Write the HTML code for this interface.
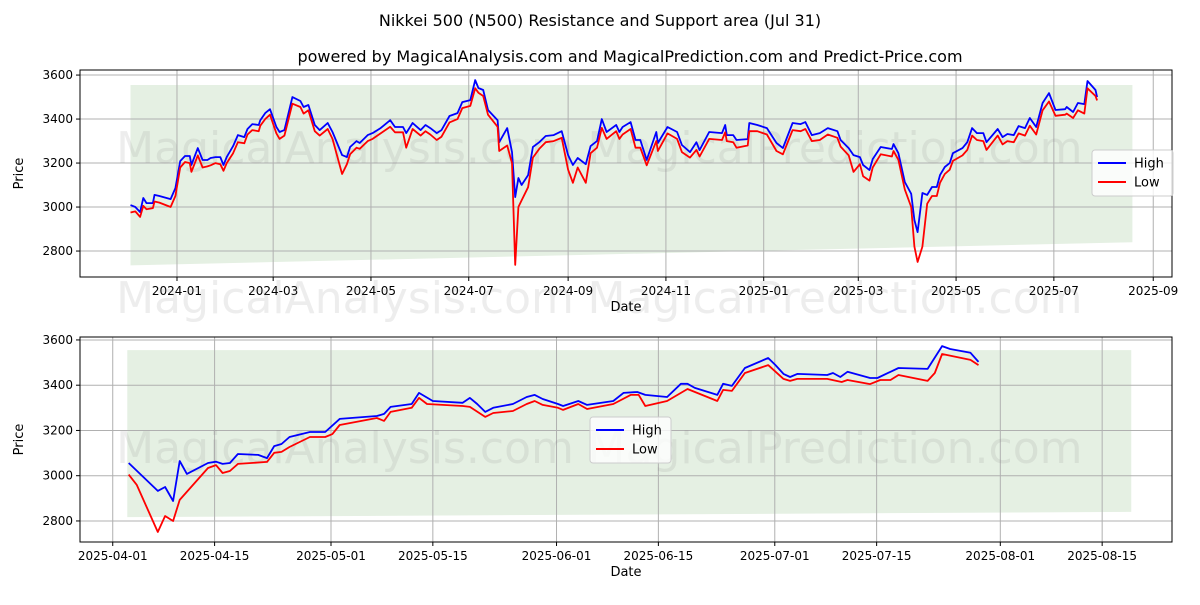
<!DOCTYPE html>
<html><head><meta charset="utf-8"><style>
body{margin:0;background:#fff;font-family:"Liberation Sans","DejaVu Sans",sans-serif}
svg text{font-family:"DejaVu Sans","Liberation Sans",sans-serif}
</style></head><body>
<svg id="c" width="1200" height="600" xmlns="http://www.w3.org/2000/svg">
<rect width="1200" height="600" fill="#fff"/>
<text x="600" y="26" text-anchor="middle" font-size="16">Nikkei 500 (N500) Resistance and Support area (Jul 31)</text>
<text x="630" y="62" text-anchor="middle" font-size="16">powered by MagicalAnalysis.com and MagicalPrediction.com and Predict-Price.com</text>
</svg>
<script>
// days since 2024-01-01
const days=[-29,-26,-23,-21,-19,-15,-14,-11,-4,-1,2,5,8,9,13,16,19,21,24,27,29,31,35,38,42,44,47,51,52,55,58,62,64,67,72,77,79,82,86,89,94,97,103,106,108,112,114,119,122,127,133,136,141,143,147,152,155,158,162,165,170,175,178,183,186,188,191,194,200,201,206,209,211,213,215,219,222,226,230,235,240,244,247,250,255,258,262,265,268,274,276,278,283,286,289,293,299,300,306,312,315,320,324,326,332,340,342,343,347,349,356,357,362,368,374,378,384,389,392,396,401,406,412,414,419,422,426,428,432,434,439,446,447,450,454,458,460,462,465,468,471,474,476,479,482,484,490,493,496,499,503,505,512,515,518,522,525,529,532,536,540,544,548,554,555,559,562,566,568,573,574];
const high=[3009,3000,2977,3041,3018,3018,3055,3050,3036,3086,3209,3232,3232,3191,3268,3214,3214,3223,3227,3227,3191,3227,3277,3327,3318,3355,3377,3373,3395,3427,3445,3364,3341,3350,3500,3482,3455,3464,3373,3350,3382,3341,3236,3227,3273,3300,3291,3327,3336,3359,3395,3364,3364,3336,3382,3350,3373,3359,3336,3350,3414,3427,3477,3486,3577,3541,3532,3441,3395,3295,3359,3250,3045,3132,3100,3145,3273,3295,3323,3327,3345,3236,3191,3223,3195,3277,3300,3400,3341,3373,3341,3364,3386,3305,3305,3214,3341,3291,3364,3341,3282,3250,3295,3259,3341,3336,3373,3327,3327,3305,3309,3382,3373,3359,3291,3268,3382,3377,3386,3327,3336,3359,3345,3305,3268,3236,3227,3191,3168,3218,3273,3264,3286,3245,3114,3060,2941,2886,3064,3055,3091,3091,3145,3182,3200,3245,3268,3295,3359,3336,3336,3295,3355,3318,3332,3327,3368,3359,3405,3364,3473,3518,3441,3445,3455,3432,3473,3468,3573,3532,3500];
const low=[2975,2980,2955,3005,2990,2995,3025,3020,3000,3050,3180,3205,3200,3160,3235,3180,3185,3190,3200,3195,3165,3200,3245,3295,3290,3330,3350,3345,3370,3400,3420,3335,3310,3325,3470,3455,3425,3440,3345,3325,3355,3310,3150,3195,3240,3270,3265,3300,3310,3335,3365,3340,3340,3270,3355,3325,3345,3330,3305,3320,3385,3400,3450,3460,3540,3520,3505,3420,3365,3255,3280,3200,2737,3000,3030,3090,3225,3265,3295,3300,3315,3170,3110,3180,3110,3245,3270,3360,3310,3345,3310,3330,3355,3270,3270,3190,3300,3255,3335,3310,3250,3225,3260,3230,3310,3305,3340,3300,3295,3270,3280,3345,3345,3330,3255,3240,3350,3345,3355,3300,3305,3330,3315,3275,3235,3160,3195,3140,3120,3180,3240,3230,3255,3215,3080,3000,2820,2750,2820,3015,3050,3050,3110,3150,3170,3210,3235,3260,3325,3305,3300,3260,3325,3285,3300,3295,3335,3325,3370,3330,3440,3480,3415,3420,3425,3405,3440,3425,3540,3505,3485];
// detailed recent data (bottom panel)
const bHighDays=[458.2,462.2,463.2,464.3,465.2,466.2,469.1,470.2,471.1,472.1,473.2,476,477.2,478.2,479.2,480.3,483.1,485.2,487.2,492.3,493.3,494.2,497.1,498.1,500,504.1,505.1,506.1,507.2,508.3,511,512.9,514,515.1,517.2,517.9,520,521.2,524.8,526.2,528.1,529.2,532.2,534.1,535,536,539.1,539.9,541.1,542.9,546.1,547.1,548.2,549.1,550.1,554.2,555,556,557,560.1,561.1,562.9,564,568,570,571.1,573.9,575];
const bHigh=[3056,2933,2950,2888,3065,3008,3056,3062,3052,3056,3096,3092,3078,3131,3140,3171,3193,3193,3251,3264,3273,3304,3317,3366,3330,3322,3344,3317,3282,3300,3317,3348,3357,3339,3317,3308,3330,3313,3330,3366,3370,3357,3348,3406,3406,3388,3357,3406,3397,3476,3520,3489,3450,3436,3450,3445,3454,3436,3459,3432,3432,3459,3476,3472,3573,3560,3543,3503];
const bLowDays=[458.2,459.3,462.2,463.2,464.3,465.2,469.1,470.2,471.1,472.1,473.2,477.2,478.2,479.2,480.3,483.1,485.2,486.2,487.2,492.3,493.3,494.2,497.1,498.1,499.2,504.1,505.1,507.2,508.3,511,512.9,514,515.1,517.2,517.9,520,521.2,524.8,527.2,528.3,529.2,532.2,535,539.1,539.9,541.1,542.9,546.1,548.2,549.1,550.1,554.2,556.2,557,560.1,561.5,562.9,564,568,569,570,573.9,575];
const bLow=[3005,2960,2751,2822,2800,2893,3034,3047,3012,3021,3052,3061,3101,3105,3127,3171,3171,3184,3224,3255,3242,3282,3300,3344,3317,3308,3304,3260,3277,3286,3317,3330,3313,3300,3291,3317,3295,3317,3357,3357,3308,3330,3383,3330,3379,3375,3454,3489,3428,3419,3428,3428,3414,3423,3405,3423,3423,3445,3419,3454,3538,3512,3489];
const ticksTop=["2024-01","2024-03","2024-05","2024-07","2024-09","2024-11","2025-01","2025-03","2025-05","2025-07","2025-09"];
const ticksTopDays=[0,60,121,182,244,305,366,425,486,547,609];
const ticksBot=["2025-04-01","2025-04-15","2025-05-01","2025-05-15","2025-06-01","2025-06-15","2025-07-01","2025-07-15","2025-08-01","2025-08-15"];
const ticksBotDays=[456,470,486,500,517,531,547,561,578,592];
const yTicks=[2800,3000,3200,3400,3600];
const band={d0:-29,d1:596,top:3555,bot0:2735,bot1:2840};

const svg=document.getElementById('c');const NS="http://www.w3.org/2000/svg";
function mk(t,a,p){const e=document.createElementNS(NS,t);for(const k in a)e.setAttribute(k,a[k]);(p||svg).appendChild(e);return e;}
function panel(name,L,R,T,B,dmin,dmax,vmin,vmax,tickD,tickL,series,bandStart,legX,legY,wm){
  const g=mk('g',{});
  
  
  const X=d=>L+(d-dmin)/(dmax-dmin)*(R-L), Y=v=>B-(v-vmin)/(vmax-vmin)*(B-T);
  const bd0=Math.max(band.d0,bandStart), b0=band.bot0+(band.bot1-band.bot0)*(bd0-band.d0)/(band.d1-band.d0);
  const bp=mk('polygon',{points:`${X(bd0)},${Y(band.top)} ${X(band.d1)},${Y(band.top)} ${X(band.d1)},${Y(band.bot1)} ${X(bd0)},${Y(b0)}`,fill:'#e5f0e3'},g);
  
  
  tickD.forEach((d,i)=>{const x=X(d);mk('line',{x1:x,x2:x,y1:T,y2:B,stroke:'#b0b0b0','stroke-width':1},g);mk('line',{x1:x,x2:x,y1:B,y2:B+4,stroke:'#000'},g);
    const t=mk('text',{x:x,y:B+18,'text-anchor':'middle','font-size':12},g);t.textContent=tickL[i];
    
    });
  yTicks.forEach(v=>{const y=Y(v);mk('line',{x1:L,x2:R,y1:y,y2:y,stroke:'#b0b0b0','stroke-width':1},g);mk('line',{x1:L-4,x2:L,y1:y,y2:y,stroke:'#000'},g);
    const t=mk('text',{x:L-7,y:y+4,'text-anchor':'end','font-size':12},g);t.textContent=v;
    
    });
  const cx=(L+R)/2,cy=(T+B)/2;
  wm.forEach(w=>{const t=mk('text',{x:w[1],y:w[2],'text-anchor':'middle','font-size':44,fill:'#888','fill-opacity':0.15},g);t.textContent=w[0];
    
    });
  series.forEach(s=>{
    const p=mk('polyline',{points:s[0].map((d,i)=>X(d).toFixed(1)+','+Y(s[1][i]).toFixed(1)).join(' '),fill:'none',stroke:s[2],'stroke-width':1.8,'stroke-linejoin':'round'},g);
    
    });
  mk('rect',{x:L,y:T,width:R-L,height:B-T,fill:'none',stroke:'#000','stroke-width':1},g);
  const xt=mk('text',{x:cx,y:B+34,'text-anchor':'middle','font-size':13},g);xt.textContent='Date';
  
  
  const yt=mk('text',{x:0,y:0,'text-anchor':'middle','font-size':13,transform:`translate(${L-57},${cy}) rotate(-90)`},g);yt.textContent='Price';
  
  
  const lg=mk('g',{},g);
  
  
  mk('rect',{x:legX,y:legY,width:81,height:46,rx:3,fill:'#fff','fill-opacity':0.8,stroke:'#ccc'},lg);
  [['High','#0000ff'],['Low','#ff0000']].forEach((e,i)=>{const y=legY+13+i*19;mk('line',{x1:legX+6,x2:legX+34,y1:y,y2:y,stroke:e[1],'stroke-width':2},lg);
    const t=mk('text',{x:legX+42,y:y+4.5,'font-size':13},lg);t.textContent=e[0];
    
    });
}
panel('top-panel',80,1172,70,277,-60.5,620.7,2682,3623,ticksTopDays,ticksTop,
  [[days,high,'#0000ff','high-line'],[days,low,'#ff0000','low-line']],-1000,1092,150,
  [["MagicalAnalysis.com",345,163],["MagicalPrediction.com",835,163],["MagicalAnalysis.com",345,313],["MagicalPrediction.com",835,313]]);
panel('bottom-panel',80,1172,337,542,451.5,601.6,2707,3613,ticksBotDays,ticksBot,
  [[bHighDays,bHigh,'#0000ff','high-line'],[bLowDays,bLow,'#ff0000','low-line']],458,590,417,
  [["MagicalAnalysis.com",345,463],["MagicalPrediction.com",835,463]]);
</script>
</body></html>
